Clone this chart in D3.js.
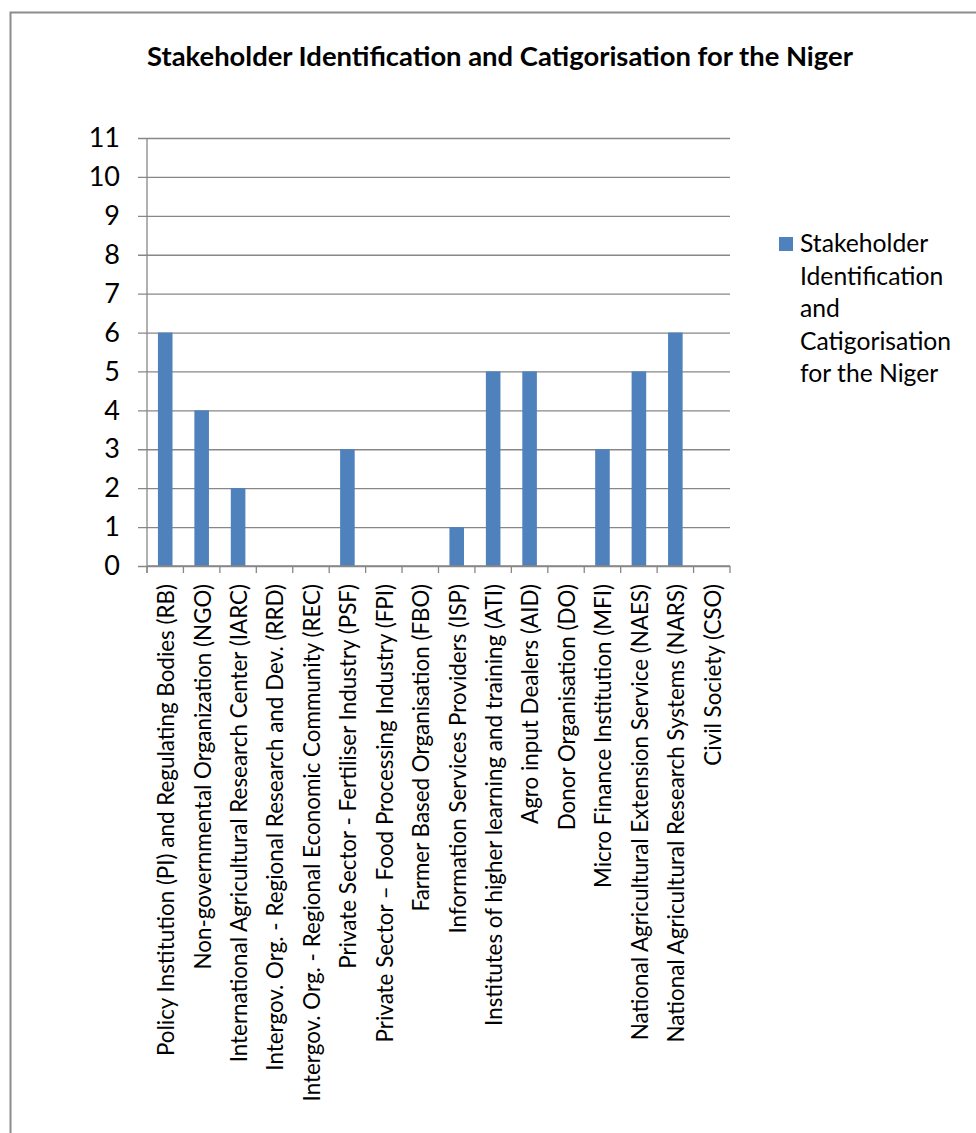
<!DOCTYPE html>
<html>
<head>
<meta charset="utf-8">
<script src="https://cdn.jsdelivr.net/npm/d3@7"></script>
<style>
  html, body { margin: 0; padding: 0; background: #fff; }
  svg { display: block; font-family: Lato, "Open Sans", sans-serif; }
</style>
</head>
<body>
<svg id="chart" width="976" height="1133"></svg>
<script>
// Stakeholder counts per category, Niger
const categories = [
  "Policy Institution (PI) and Regulating Bodies (RB)",
  "Non-governmental Organization (NGO)",
  "International Agricultural Research Center (IARC)",
  "Intergov. Org. - Regional Research and Dev. (RRD)",
  "Intergov. Org. - Regional Economic Community (REC)",
  "Private Sector - Fertiliser Industry (PSF)",
  "Private Sector \u2013 Food Processing Industry (FPI)",
  "Farmer Based Organisation (FBO)",
  "Information Services Providers (ISP)",
  "Institutes of higher learning and training (ATI)",
  "Agro input Dealers (AID)",
  "Donor Organisation (DO)",
  "Micro Finance Institution (MFI)",
  "National Agricultural Extension Service (NAES)",
  "National Agricultural Research Systems (NARS)",
  "Civil Society (CSO)"
];
const values = [6, 4, 2, 0, 0, 3, 0, 0, 1, 5, 5, 0, 3, 5, 6, 0];
const yTicks = [0, 1, 2, 3, 4, 5, 6, 7, 8, 9, 10, 11];
const chartTitle = "Stakeholder Identification and Catigorisation for the Niger";
const seriesName = ["Stakeholder", "Identification", "and", "Catigorisation", "for the Niger"];

const svg = d3.select("#chart");
const barColor = "#4F81BD";
const gridColor = "#878787";

// outer chart frame
svg.append("rect")
  .attr("x", 10.5).attr("y", 12.5)
  .attr("width", 1000).attr("height", 1200)
  .attr("fill", "none").attr("stroke", "#8c8c8c").attr("stroke-width", 2);

const plot = { left: 147, right: 730, top: 138, bottom: 566 };

const xBand = d3.scaleBand().domain(categories).range([plot.left, plot.right]).padding(0);
const y = d3.scaleLinear().domain([0, 11]).range([plot.bottom, plot.top]);

// title
svg.append("text")
  .attr("x", 500).attr("y", 66)
  .attr("text-anchor", "middle")
  .attr("font-weight", "bold")
  .attr("font-size", 27.4)
  .attr("fill", "#000")
  .text(chartTitle);

// horizontal gridlines with left ticks
const yAxis = d3.axisLeft(y)
  .tickValues(yTicks)
  .tickSize(-(plot.right - plot.left))
  .tickPadding(27)
  .tickFormat(d3.format("d"));

const gy = svg.append("g")
  .attr("transform", `translate(${plot.left},0)`)
  .call(yAxis);
gy.select(".domain").remove();
gy.selectAll(".tick line")
  .attr("x1", -9)
  .attr("stroke", gridColor).attr("stroke-width", 1.3);
gy.selectAll(".tick text")
  .attr("font-size", 27)
  .attr("font-family", "Lato, sans-serif")
  .attr("fill", "#000");

// vertical axis line
svg.append("line")
  .attr("x1", plot.left).attr("x2", plot.left)
  .attr("y1", plot.top).attr("y2", plot.bottom + 7)
  .attr("stroke", gridColor).attr("stroke-width", 1.3);

// bars: width is 1/2.5 of the category slot (150% gap)
const barW = xBand.bandwidth() / 2.5;
svg.append("g").selectAll("rect")
  .data(categories)
  .join("rect")
  .attr("x", d => xBand(d) + (xBand.bandwidth() - barW) / 2)
  .attr("width", barW)
  .attr("y", (d, i) => y(values[i]))
  .attr("height", (d, i) => y(0) - y(values[i]))
  .attr("fill", barColor);

// category axis with ticks at band boundaries
const boundaries = categories.map(c => xBand(c)).concat([plot.right]);
svg.append("line")
  .attr("x1", plot.left).attr("x2", plot.right)
  .attr("y1", plot.bottom).attr("y2", plot.bottom)
  .attr("stroke", gridColor).attr("stroke-width", 1.3);
svg.append("g").selectAll("line")
  .data(boundaries)
  .join("line")
  .attr("x1", d => d).attr("x2", d => d)
  .attr("y1", plot.bottom).attr("y2", plot.bottom + 7)
  .attr("stroke", gridColor).attr("stroke-width", 1.3);

// rotated category labels
svg.append("g").selectAll("text")
  .data(categories)
  .join("text")
  .attr("transform", d => `translate(${xBand(d) + xBand.bandwidth() / 2 + 1},584) rotate(-90)`)
  .attr("dy", "0.35em")
  .attr("text-anchor", "end")
  .attr("font-size", 22.4)
  .attr("fill", "#000")
  .text(d => d);

// legend
const legend = svg.append("g").attr("transform", "translate(779,237)");
legend.append("rect")
  .attr("width", 14).attr("height", 14)
  .attr("fill", barColor);
legend.append("text")
  .attr("x", 21).attr("y", 15)
  .attr("font-size", 24.7)
  .attr("fill", "#000")
  .selectAll("tspan")
  .data(seriesName)
  .join("tspan")
  .attr("x", 21)
  .attr("dy", (d, i) => i === 0 ? 0 : 32.5)
  .text(d => d);
</script>
</body>
</html>
